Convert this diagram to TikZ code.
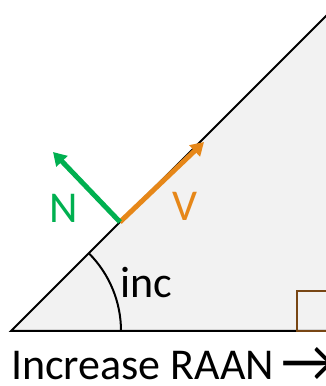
\documentclass[tikz,border=0pt]{standalone}
\usepackage{fontspec}
\setmainfont{Carlito}
\usetikzlibrary{arrows.meta}
\definecolor{fillgray}{RGB}{242,242,242}
\definecolor{vecgreen}{RGB}{0,176,80}
\definecolor{vecorange}{RGB}{230,135,25}
\definecolor{boxbrown}{RGB}{120,70,20}
\begin{document}
\begin{tikzpicture}[x=1pt, y=1pt, >={Triangle[length=13pt,width=15pt]},
  lbl/.style={font=\fontsize{44}{50}\selectfont, inner sep=0pt}]
	\useasboundingbox (0,0) rectangle (326,386);
	% plane of the orbit
	\coordinate (A) at (11,55);
	\coordinate (T) at (341,385);
	\coordinate (R) at (341,55);
	\fill[fillgray] (A) -- (T) -- (R) -- cycle;
	\draw[line width=2pt] (T) -- (A) -- (R);
	\draw[boxbrown, line width=2.5pt] (297,55) rectangle (338,95);
	% inclination angle
	\draw[line width=2pt] ([xshift=110pt]A) arc[start angle=0, end angle=45, radius=110pt];
	\node[lbl] (inc) at (146,103) {inc};
	% vectors
	\coordinate (P) at (120,164);
	\coordinate (Vtip) at (204,244);
	\coordinate (Ntip) at (53,234);
	\draw[->, vecorange, line width=5pt] (P) -- (Vtip);
	\draw[->, vecgreen, line width=5pt] (P) -- (Ntip);
	\node[lbl, text=vecgreen] (N) at (64,178) {N};
	\node[lbl, text=vecorange] (V) at (185,180) {V};
	\node[lbl, anchor=base west] (raan) at (11,6) {Increase RAAN\hspace{8pt}\raisebox{-2pt}{\scalebox{1.35}{→}}};
\end{tikzpicture}
\end{document}
